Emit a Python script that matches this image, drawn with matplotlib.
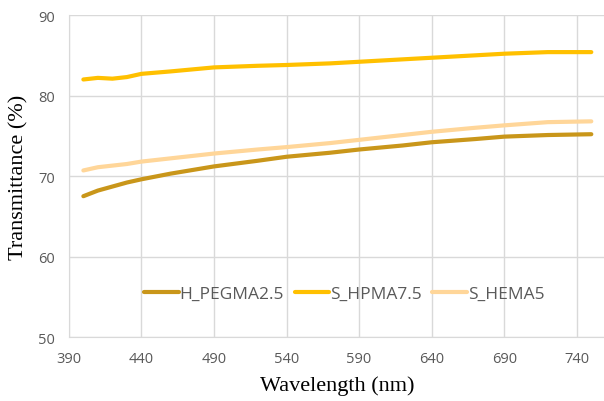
import matplotlib
matplotlib.use("Agg")
import matplotlib.pyplot as plt

wavelength = [400, 410, 420, 430, 440, 460, 490, 520, 540, 570, 590, 620, 640, 670, 690, 720, 750]
h_pegma = [67.5, 68.2, 68.7, 69.2, 69.6, 70.3, 71.2, 71.9, 72.4, 72.9, 73.3, 73.8, 74.2, 74.6, 74.9, 75.1, 75.2]
s_hpma = [82.0, 82.2, 82.1, 82.3, 82.7, 83.0, 83.5, 83.7, 83.8, 84.0, 84.2, 84.5, 84.7, 85.0, 85.2, 85.4, 85.4]
s_hema = [70.7, 71.1, 71.3, 71.5, 71.8, 72.2, 72.8, 73.3, 73.6, 74.1, 74.5, 75.1, 75.5, 76.0, 76.3, 76.7, 76.8]
series_names = ["H_PEGMA2.5", "S_HPMA7.5", "S_HEMA5"]
colors = ["#C9961A", "#FFC000", "#FFD699"]
xticks = [390, 440, 490, 540, 590, 640, 690, 740]
yticks = [50, 60, 70, 80, 90]

fig = plt.figure(figsize=(6.04, 4.02), dpi=100)
ax = fig.add_axes([0.114, 0.159, 0.889, 0.801])

for ys, name, c in zip([h_pegma, s_hpma, s_hema], series_names, colors):
    ax.plot(wavelength, ys, color=c, lw=3, label=name, solid_capstyle="round")

ax.set_xlim(390, 760)
ax.set_ylim(50, 90)
ax.set_xticks(xticks)
ax.set_yticks(yticks)
ax.grid(True, color="#D9D9D9", lw=1)
ax.set_axisbelow(True)
for s in ["top", "right"]:
    ax.spines[s].set_visible(False)
for s in ["left", "bottom"]:
    ax.spines[s].set_color("#D9D9D9")
ax.tick_params(length=0, labelsize=10.5, labelcolor="#595959", pad=10)
for lab in ax.get_xticklabels() + ax.get_yticklabels():
    lab.set_fontfamily("Open Sans")

ax.set_xlabel("Wavelength (nm)", fontsize=16, family="Liberation Serif", labelpad=7)
ax.set_ylabel("Transmittance (%)", fontsize=16, family="Liberation Serif", labelpad=7)

leg = ax.legend(loc="center", bbox_to_anchor=(0.513, 0.134), ncol=3, frameon=False,
                handlelength=2.0, handletextpad=0.05, columnspacing=0.6,
                prop={"family": "Open Sans", "size": 12.5})
for t in leg.get_texts():
    t.set_color("#595959")

fig.savefig("out.png", dpi=100)
